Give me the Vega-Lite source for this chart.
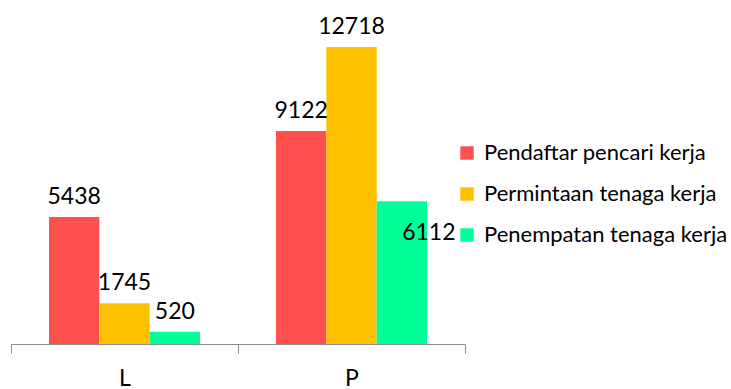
{
  "$schema": "https://vega.github.io/schema/vega-lite/v6.json",
  "width": 454,
  "height": 327,
  "autosize": {"type": "none"},
  "padding": {"left": 11, "top": 17, "right": 266, "bottom": 45},
  "background": "white",
  "config": {"view": {"stroke": null}, "font": "Lato"},
  "data": {
    "values": [
      {"kategori": "L", "seri": "Pendaftar pencari kerja", "nilai": 5438},
      {"kategori": "L", "seri": "Permintaan tenaga kerja", "nilai": 1745},
      {"kategori": "L", "seri": "Penempatan tenaga kerja", "nilai": 520},
      {"kategori": "P", "seri": "Pendaftar pencari kerja", "nilai": 9122},
      {"kategori": "P", "seri": "Permintaan tenaga kerja", "nilai": 12718},
      {"kategori": "P", "seri": "Penempatan tenaga kerja", "nilai": 6112}
    ]
  },
  "encoding": {
    "x": {
      "field": "kategori",
      "type": "nominal",
      "scale": {"paddingInner": 0, "paddingOuter": 0},
      "axis": {
        "title": null,
        "labelAngle": 0,
        "domainColor": "#8c8c8c",
        "tickColor": "#8c8c8c",
        "tickBand": "extent",
        "tickSize": 9,
        "labelFontSize": 23,
        "labelPadding": 14,
        "labelColor": "#000000",
        "labelFont": "Lato"
      }
    },
    "xOffset": {
      "field": "seri",
      "type": "nominal",
      "scale": {
        "domain": ["Pendaftar pencari kerja", "Permintaan tenaga kerja", "Penempatan tenaga kerja"],
        "paddingInner": 0,
        "paddingOuter": 0.755
      }
    },
    "y": {
      "field": "nilai",
      "type": "quantitative",
      "scale": {"domain": [0, 14000]},
      "axis": null
    }
  },
  "layer": [
    {
      "mark": {"type": "bar"},
      "encoding": {
        "color": {
          "field": "seri",
          "type": "nominal",
          "scale": {
            "domain": ["Pendaftar pencari kerja", "Permintaan tenaga kerja", "Penempatan tenaga kerja"],
            "range": ["#FF5050", "#FFC000", "#00FF99"]
          },
          "legend": {
            "orient": "none",
            "legendX": 445,
            "legendY": 125,
            "title": null,
            "symbolType": "square",
            "symbolSize": 180,
            "symbolStrokeWidth": 0,
            "labelFontSize": 22,
            "labelColor": "#000000",
            "labelFont": "Lato",
            "labelOffset": 6,
            "labelLimit": 400,
            "rowPadding": 19
          }
        }
      }
    },
    {
      "transform": [{"filter": "datum.nilai != 6112"}],
      "mark": {"type": "text", "dy": -13, "fontSize": 23, "baseline": "alphabetic", "color": "#000000"},
      "encoding": {"text": {"field": "nilai", "type": "quantitative", "format": "d"}}
    },
    {
      "transform": [{"filter": "datum.nilai == 6112"}],
      "mark": {"type": "text", "dx": 27, "dy": 39, "fontSize": 23, "baseline": "alphabetic", "color": "#000000"},
      "encoding": {"text": {"field": "nilai", "type": "quantitative", "format": "d"}}
    }
  ]
}
